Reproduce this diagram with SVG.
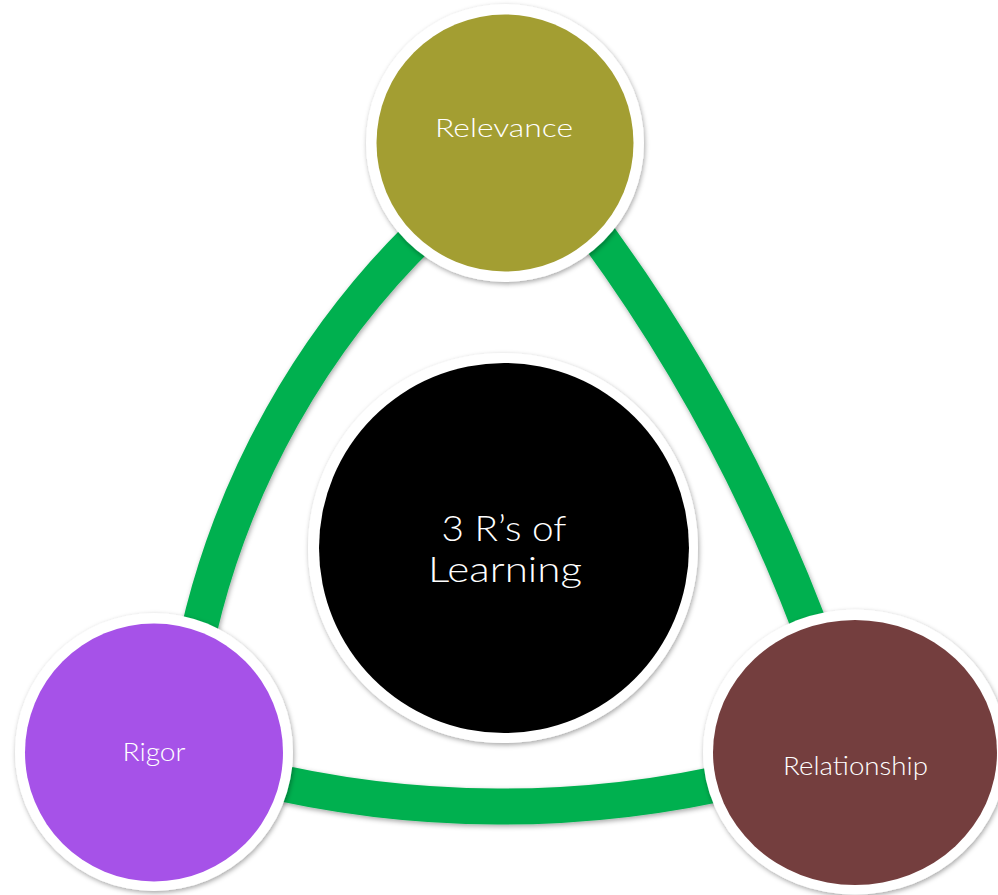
<svg xmlns="http://www.w3.org/2000/svg" width="998" height="895" viewBox="0 0 998 895">
<defs>
<filter id="sh" filterUnits="userSpaceOnUse" x="0" y="0" width="998" height="895">
<feDropShadow dx="1" dy="2" stdDeviation="2.5" flood-color="#000" flood-opacity="0.35"/>
</filter>
</defs>
<style>
.arc{fill:none;stroke:#00B050;stroke-width:36;filter:url(#sh)}
.ring{fill:#fff;filter:url(#sh)}
.lbl{font-family:Lato,"Liberation Sans",sans-serif;font-weight:300;fill:#fff;text-anchor:middle}
</style>
<rect width="998" height="895" fill="#fff"/>
<g id="connectors">
<path class="arc" d="M 458,200 A 819 819 0 0 0 189,680"/>
<path class="arc" d="M 575,205 A 1675 1675 0 0 1 822,660"/>
<path class="arc" d="M 250,776 A 1050 1050 0 0 0 745,778"/>
</g>
<g id="center">
<circle class="ring" cx="503" cy="548" r="195"/>
<circle cx="504" cy="548" r="185" fill="#000"/>
<text class="lbl" x="504" y="541" font-size="36" textLength="125" lengthAdjust="spacingAndGlyphs">3 R’s of</text>
<text class="lbl" x="505" y="582" font-size="36" textLength="154" lengthAdjust="spacingAndGlyphs">Learning</text>
</g>
<g id="relevance">
<circle class="ring" cx="505" cy="143" r="139"/>
<circle cx="505" cy="143" r="128.5" fill="#A39E32"/>
<text class="lbl" x="504" y="137" font-size="25" textLength="138" lengthAdjust="spacingAndGlyphs">Relevance</text>
</g>
<g id="rigor">
<circle class="ring" cx="154" cy="752" r="139"/>
<circle cx="154" cy="752.5" r="129" fill="#A652E8"/>
<text class="lbl" x="154" y="761" font-size="25" textLength="63" lengthAdjust="spacingAndGlyphs">Rigor</text>
</g>
<g id="relationship">
<ellipse class="ring" cx="855" cy="752" rx="152" ry="142.5"/>
<ellipse cx="855" cy="752.5" rx="142" ry="132.5" fill="#743E3E"/>
<text class="lbl" x="855.5" y="775" font-size="25" textLength="145" lengthAdjust="spacingAndGlyphs">Relationship</text>
</g>
</svg>
